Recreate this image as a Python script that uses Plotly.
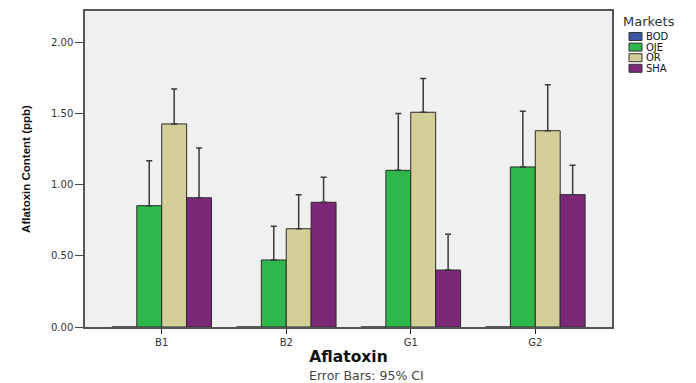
import plotly.graph_objects as go

categories = ["B1", "B2", "G1", "G2"]
markets = ["BOD", "OJE", "OR", "SHA"]
means = {
    "BOD": [0.0, 0.0, 0.0, 0.0],
    "OJE": [0.854, 0.472, 1.103, 1.127],
    "OR": [1.430, 0.692, 1.512, 1.382],
    "SHA": [0.910, 0.878, 0.401, 0.932],
}
upper_ci = {
    "BOD": [0.0, 0.0, 0.0, 0.0],
    "OJE": [1.171, 0.709, 1.504, 1.519],
    "OR": [1.676, 0.932, 1.749, 1.706],
    "SHA": [1.260, 1.054, 0.653, 1.139],
}
colors = {"BOD": "#3c56a6", "OJE": "#2eb84b", "OR": "#d4cf99", "SHA": "#7c2878"}
y_ticks = [0, 0.5, 1.0, 1.5, 2.0]
y_tick_labels = ["0.00", "0.50", "1.00", "1.50", "2.00"]

W, H = 696, 383
ML, MR, MT, MB = 85, 84, 11, 56
PW, PH = W - ML - MR, H - MT - MB

def px_x(x):
    return (x - ML) / PW

def px_y(y):
    return (H - MB - y) / PH

fig = go.Figure()
for m in markets:
    err = [u - v for u, v in zip(upper_ci[m], means[m])]
    show_err = m != "BOD"
    fig.add_trace(go.Bar(
        x=categories, y=means[m], name=m, showlegend=False,
        marker=dict(color=colors[m], line=dict(color="#2a2a2a", width=1)),
        error_y=dict(type="data", symmetric=False, array=err,
                     arrayminus=[0] * len(err), visible=show_err,
                     color="#3a3a3a", thickness=1.5, width=3),
    ))

# manual compact legend (SPSS style)
shapes = []
annotations = [dict(
    text="Markets", xref="paper", yref="paper", x=px_x(621), y=px_y(22),
    xanchor="left", yanchor="middle", showarrow=False,
    font=dict(family="DejaVu Sans, sans-serif", size=13, color="#333"),
)]
for i, m in enumerate(markets):
    cy = 36.5 + i * 10.6
    shapes.append(dict(
        type="rect", xref="paper", yref="paper",
        x0=px_x(629), x1=px_x(642), y0=px_y(cy - 4), y1=px_y(cy + 4),
        fillcolor=colors[m], line=dict(color="#333", width=1),
    ))
    annotations.append(dict(
        text=m, xref="paper", yref="paper", x=px_x(644), y=px_y(cy),
        xanchor="left", yanchor="middle", showarrow=False,
        font=dict(family="DejaVu Sans, sans-serif", size=10, color="#111"),
    ))
annotations.append(dict(
    text="Error Bars: 95% CI", xref="paper", yref="paper",
    x=px_x(366), y=px_y(375), xanchor="center", yanchor="middle", showarrow=False,
    font=dict(family="DejaVu Sans, sans-serif", size=12.5, color="#444"),
))

fig.update_layout(
    width=W, height=H,
    margin=dict(l=ML, r=MR, t=MT, b=MB, autoexpand=False),
    paper_bgcolor="white", plot_bgcolor="#f0f0f0",
    barmode="group", bargap=0.2, bargroupgap=0,
    font=dict(family="DejaVu Sans, sans-serif", size=10, color="#222"),
    showlegend=False,
    shapes=shapes,
    annotations=annotations,
    xaxis=dict(
        range=[-0.616, 3.616], showline=True, linecolor="#555", linewidth=1.5,
        mirror=True, ticks="outside", ticklen=5, tickcolor="#222",
        tickfont=dict(size=10, color="#333"),
        title=dict(text="<b>Aflatoxin</b>", font=dict(size=15.5, color="#111"), standoff=4),
        showgrid=False, automargin=False,
    ),
    yaxis=dict(
        range=[0, 2.225], showline=True, linecolor="#555", linewidth=1.5,
        mirror=True, ticks="outside", ticklen=8, tickcolor="#444",
        tickvals=y_ticks, ticktext=y_tick_labels,
        tickfont=dict(size=10, color="#333"),
        title=dict(text="<b>Aflatoxin Content (ppb)</b>",
                   font=dict(family="Liberation Sans Narrow, Arial Narrow, sans-serif", size=11.5, color="#111"),
                   standoff=18),
        showgrid=False, zeroline=False, automargin=False,
    ),
)

fig.write_html(
    "out.html",
    config={"displayModeBar": False},
    post_script="document.body.style.margin='0';document.body.style.padding='0';",
)
